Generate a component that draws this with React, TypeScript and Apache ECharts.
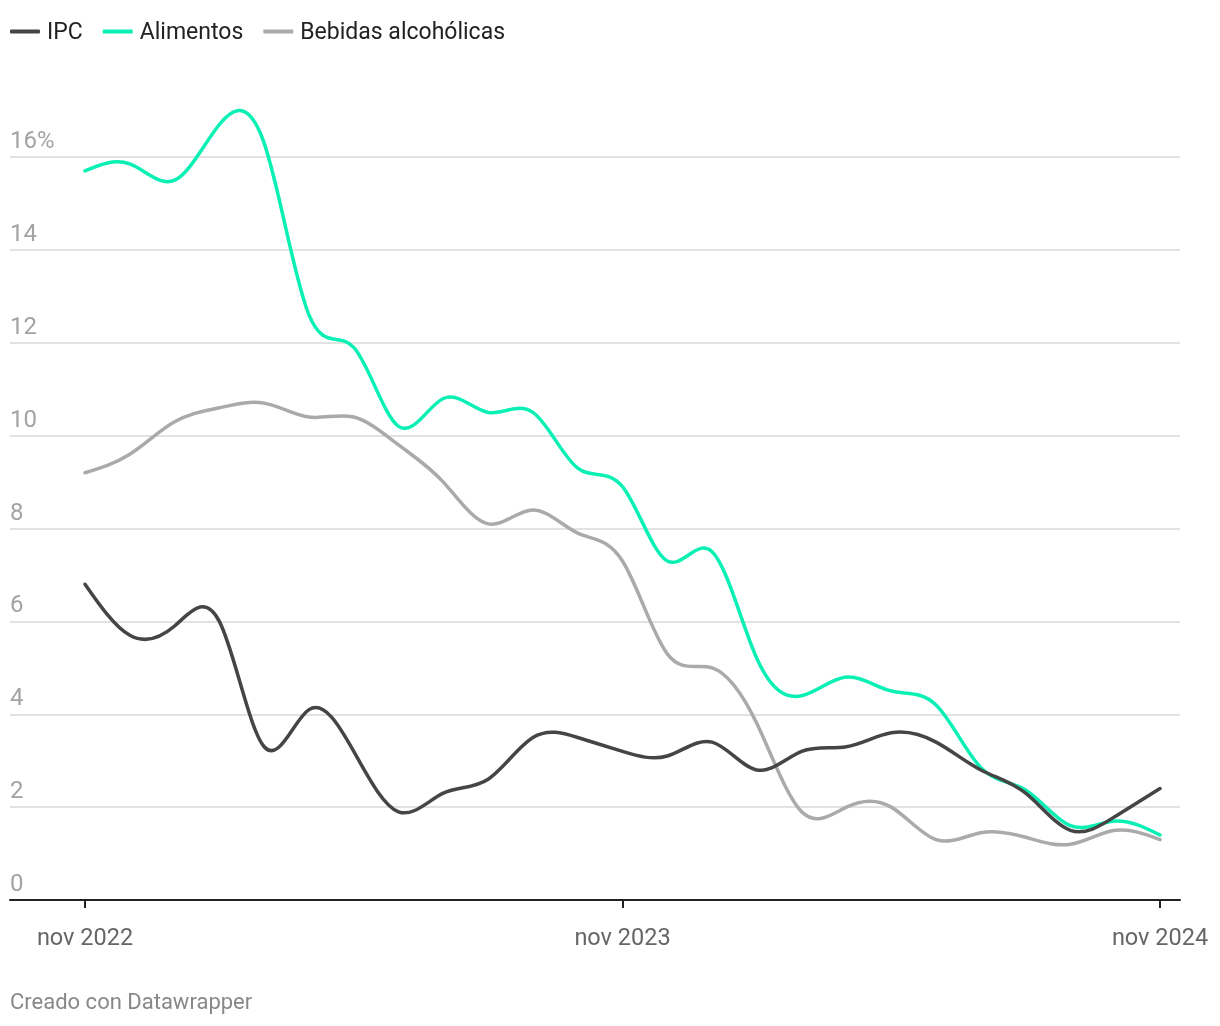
import React, { useEffect, useRef } from "react";
import * as echarts from "echarts";

const months: string[] = [
  "nov 2022", "dic 2022", "ene 2023", "feb 2023", "mar 2023", "abr 2023", "may 2023", "jun 2023",
  "jul 2023", "ago 2023", "sep 2023", "oct 2023", "nov 2023", "dic 2023", "ene 2024", "feb 2024",
  "mar 2024", "abr 2024", "may 2024", "jun 2024", "jul 2024", "ago 2024", "sep 2024", "oct 2024", "nov 2024",
];

const ipc: number[] = [6.8, 5.7, 5.9, 6.0, 3.3, 4.1, 3.2, 1.9, 2.3, 2.6, 3.5, 3.5, 3.2, 3.1, 3.4, 2.8, 3.2, 3.3, 3.6, 3.4, 2.8, 2.3, 1.5, 1.8, 2.4];
const alimentos: number[] = [15.7, 15.85, 15.5, 16.7, 16.3, 12.6, 11.9, 10.2, 10.8, 10.5, 10.5, 9.3, 8.9, 7.3, 7.5, 5.2, 4.4, 4.8, 4.5, 4.2, 2.85, 2.37, 1.6, 1.7, 1.4];
const bebidas: number[] = [9.2, 9.6, 10.3, 10.6, 10.7, 10.4, 10.4, 9.8, 9.0, 8.1, 8.4, 7.9, 7.3, 5.3, 5.0, 3.8, 1.9, 2.0, 2.0, 1.3, 1.45, 1.35, 1.2, 1.5, 1.3];

const xTickIdx: number[] = [0, 12, 24];

const seriesNames = ["IPC", "Alimentos", "Bebidas alcohólicas"];
const seriesColors = ["#454545", "#0af0b4", "#aaaaaa"];

const FONT = "Roboto, 'Noto Sans', sans-serif";

// natural cubic spline second derivatives (uniform spacing h = 1)
function naturalM(y: number[]): number[] {
  const n = y.length;
  const M = new Array(n).fill(0);
  if (n < 3) return M;
  const m = n - 2;
  const a: number[] = [], b: number[] = [], c: number[] = [], d: number[] = [];
  for (let k = 0; k < m; k++) {
    const i = k + 1;
    a.push(1); b.push(4); c.push(1);
    d.push(6 * (y[i - 1] - 2 * y[i] + y[i + 1]));
  }
  for (let k = 1; k < m; k++) {
    const w = a[k] / b[k - 1];
    b[k] -= w * c[k - 1];
    d[k] -= w * d[k - 1];
  }
  const x = new Array(m).fill(0);
  x[m - 1] = d[m - 1] / b[m - 1];
  for (let k = m - 2; k >= 0; k--) x[k] = (d[k] - c[k] * x[k + 1]) / b[k];
  for (let k = 0; k < m; k++) M[k + 1] = x[k];
  return M;
}

export default function App() {
  const ref = useRef<HTMLDivElement>(null);
  useEffect(() => {
    if (!ref.current) return;
    const chart = echarts.init(ref.current, undefined, { renderer: "svg" });
    const pxPerMonth = (1160 - 85) / 24;
    const dataSets = [ipc, alimentos, bebidas];

    const makeRender = (values: number[], color: string) => {
      const M = naturalM(values);
      return (params: any, api: any) => {
        if (params.dataIndex !== 0) return { type: "group", children: [] };
        const n = values.length;
        const p0 = api.coord([0, values[0]]);
        let d = `M${p0[0]},${p0[1]}`;
        for (let i = 0; i < n - 1; i++) {
          const y0 = values[i], y1 = values[i + 1];
          const s0 = (y1 - y0) - (2 * M[i] + M[i + 1]) / 6;
          const s1 = (y1 - y0) + (M[i] + 2 * M[i + 1]) / 6;
          const c1 = api.coord([i + 1 / 3, y0 + s0 / 3]);
          const c2 = api.coord([i + 2 / 3, y1 - s1 / 3]);
          const e = api.coord([i + 1, y1]);
          d += ` C${c1[0]},${c1[1]} ${c2[0]},${c2[1]} ${e[0]},${e[1]}`;
        }
        return {
          type: "path",
          shape: { pathData: d },
          style: { stroke: color, lineWidth: 3.5, fill: "none", lineCap: "round", lineJoin: "round" },
        };
      };
    };

    chart.setOption({
      animation: false,
      textStyle: { fontFamily: FONT },
      legend: {
        left: 10,
        top: 20,
        padding: 0,
        icon: "roundRect",
        itemWidth: 30,
        itemHeight: 4,
        itemGap: 20,
        textStyle: { fontSize: 23, color: "#222", fontFamily: FONT, padding: [0, 0, 0, 2] },
        data: seriesNames,
      },
      grid: { left: 10, right: 40, top: 157, bottom: 126, containLabel: false },
      xAxis: {
        type: "value",
        min: -75 / pxPerMonth,
        max: 24 + 20 / pxPerMonth,
        splitLine: { show: false },
        axisLine: { show: true, lineStyle: { color: "#222", width: 2 } },
        axisTick: {
          show: true,
          customValues: xTickIdx,
          length: 8,
          lineStyle: { color: "#222", width: 2 },
        },
        axisLabel: {
          customValues: xTickIdx,
          formatter: (v: number) => months[Math.round(v)] ?? "",
          fontSize: 23.5,
          color: "#666",
          margin: 25,
          fontFamily: FONT,
        },
      },
      yAxis: {
        type: "value",
        min: 0,
        max: 16,
        interval: 2,
        axisLine: { show: false },
        axisTick: { show: false },
        splitLine: {
          show: true,
          lineStyle: { color: "#e2e2e2", width: 2 },
          showMinLine: false,
        },
        axisLabel: {
          inside: true,
          margin: 0,
          align: "left",
          verticalAlign: "bottom",
          padding: [0, 0, 5, 0],
          fontSize: 24,
          color: "#a3a3a3",
          fontFamily: FONT,
          formatter: (v: number) => (v === 16 ? "16%" : String(v)),
        },
      },
      graphic: [
        {
          type: "text",
          left: 10,
          top: 990,
          style: { text: "Creado con Datawrapper", fontSize: 22, fill: "#888", fontFamily: FONT },
        },
      ],
      series: seriesNames.map((name, k) => ({
        name,
        type: "custom",
        data: dataSets[k].map((v, i) => [i, v]),
        encode: { x: 0, y: 1 },
        renderItem: makeRender(dataSets[k], seriesColors[k]),
        itemStyle: { color: seriesColors[k] },
        clip: false,
        z: 3 - k,
      })),
    });
    return () => chart.dispose();
  }, []);
  return <div ref={ref} style={{ position: "fixed", left: 0, top: 0, width: 1220, height: 1026 }} />;
}
